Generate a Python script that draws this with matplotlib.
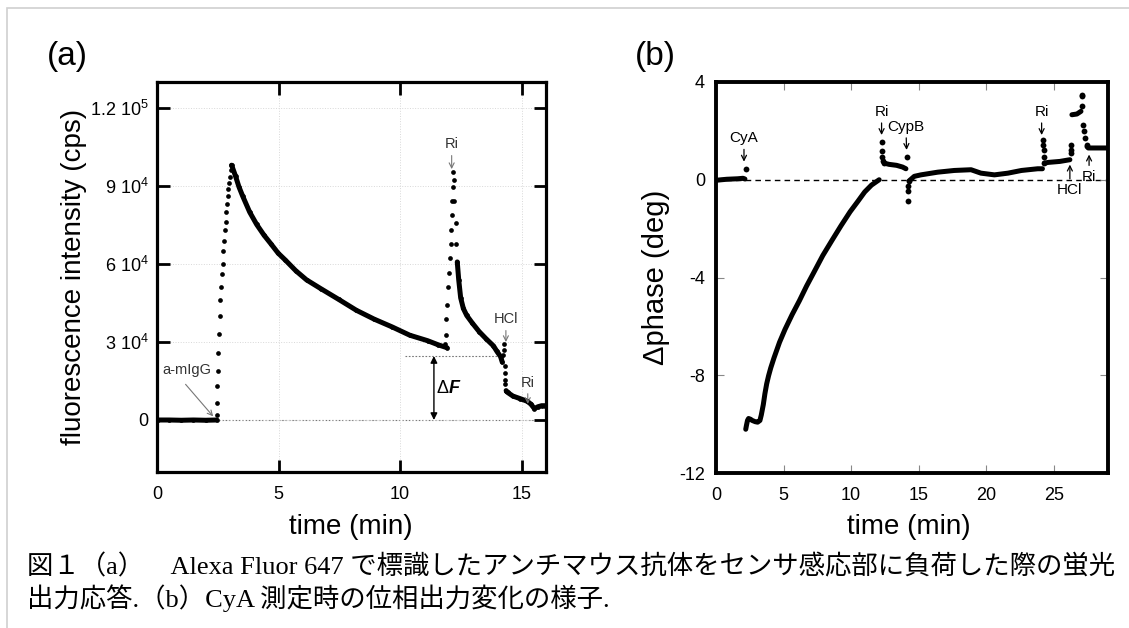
import matplotlib
matplotlib.use("Agg")
import matplotlib.pyplot as plt
from matplotlib.patches import Rectangle

plt.rcParams['font.family'] = ['Liberation Sans', 'DejaVu Sans']
plt.rcParams['mathtext.default'] = 'regular'
plt.rcParams['axes.unicode_minus'] = False

# ---- panel (a): fluorescence intensity (cps) vs time (min) ----
a_base_t = [0.05, 0.5, 1.0, 1.5, 2.0, 2.45]
a_base_f = [0, 0, -100, 0, -100, 0]

a_rise1_t = [2.46, 2.47, 2.48, 2.50, 2.52, 2.55, 2.58, 2.61, 2.64, 2.67, 2.70, 2.73,
             2.76, 2.79, 2.82, 2.85, 2.88, 2.91, 2.94, 2.97, 3.00, 3.03, 3.06]
a_rise1_f = [2000, 6500, 12900, 19000, 25700, 33000, 40000, 46000, 51000, 56000, 60000, 65000,
             69000, 73000, 76000, 80000, 83000, 86000, 89000, 91000, 93500, 96000, 98000]

a_decay1_t = [3.07, 3.23, 3.37, 3.52, 3.81, 4.10, 4.40, 4.69, 4.98, 5.28, 5.71, 6.15,
              6.74, 7.47, 8.20, 8.93, 9.67, 10.40, 11.13, 11.57, 11.93]
a_decay1_f = [98000, 93800, 89700, 86200, 80000, 75200, 71100, 67700, 64200, 61500, 57400, 53900,
              50500, 46400, 42200, 38800, 35800, 32600, 30500, 28900, 27800]

a_peak2_t = [11.86, 11.88, 11.90, 11.93, 11.97, 12.00, 12.04, 12.08, 12.10, 12.12, 12.15,
             12.17, 12.19, 12.21, 12.23, 12.28, 12.31]
a_peak2_f = [29200, 32600, 38800, 44300, 51200, 56700, 62200, 67700, 73200, 78700, 84200,
             89700, 95200, 92400, 84200, 75900, 67700]

a_decay2_t = [12.35, 12.41, 12.49, 12.60, 12.74, 12.96, 13.25, 13.54, 13.84, 13.98, 14.13, 14.20]
a_decay2_f = [60800, 53900, 47000, 42900, 40200, 37400, 34000, 31200, 28500, 26400, 24400, 22300]

a_hcl_t = [14.24, 14.27, 14.29, 14.30, 14.31, 14.32, 14.33, 14.36]
a_hcl_f = [25000, 29200, 27100, 20900, 18100, 15400, 14000, 11300]

a_tail_t = [14.36, 14.42, 14.64, 14.94, 15.23, 15.38, 15.52, 15.67, 15.82, 15.96]
a_tail_f = [11300, 10600, 9200, 8200, 7200, 6100, 4400, 5100, 5500, 5500]

a_yticks = [0, 30000, 60000, 90000, 120000]
a_ylabels = ['0', '3 10$^4$', '6 10$^4$', '9 10$^4$', '1.2 10$^5$']
a_xticks = [0, 5, 10, 15]
delta_f = 24600

# ---- panel (b): phase change (deg) vs time (min) ----
b_base_t = [0.05, 0.4, 0.8, 1.2, 1.6, 2.0, 2.14]
b_base_v = [-0.02, 0.0, 0.02, 0.03, 0.04, 0.06, 0.03]
b_cya_t = [2.22]
b_cya_v = [0.45]

b_rec_t = [2.20, 2.25, 2.33, 2.41, 2.55, 2.68, 2.90, 3.08, 3.25, 3.35, 3.50, 3.62, 3.75, 3.89,
           4.05, 4.29, 4.70, 5.10, 5.63, 6.17, 6.70, 7.24, 7.90, 8.58, 9.25, 9.92, 10.50,
           11.00, 11.50, 12.07]
b_rec_v = [-10.21, -10.06, -9.85, -9.77, -9.80, -9.85, -9.90, -9.92, -9.85, -9.63, -9.20, -8.75,
           -8.35, -8.02, -7.70, -7.29, -6.65, -6.13, -5.52, -4.95, -4.35, -3.79, -3.10, -2.48,
           -1.88, -1.31, -0.88, -0.50, -0.22, 0.0]

b_ri1_t = [12.25, 12.27, 12.30, 12.35, 12.45]
b_ri1_v = [1.54, 1.16, 0.95, 0.75, 0.68]
b_seg2_t = [12.45, 12.80, 13.36, 13.80, 14.05]
b_seg2_v = [0.68, 0.63, 0.59, 0.52, 0.45]

b_cypb_t = [14.12, 14.17, 14.18, 14.20, 14.25]
b_cypb_v = [0.95, -0.89, -0.48, -0.27, -0.04]
b_seg3_t = [14.30, 14.67, 15.16, 16.40, 17.63, 18.87, 19.60, 20.60, 21.60, 22.60, 23.80, 24.15]
b_seg3_v = [-0.04, 0.14, 0.20, 0.31, 0.38, 0.41, 0.27, 0.20, 0.27, 0.38, 0.45, 0.45]

b_ri2_t = [24.20, 24.22, 24.24, 24.25, 24.30]
b_ri2_v = [1.64, 1.43, 1.23, 0.95, 0.68]
b_seg4_t = [24.30, 24.58, 25.44, 26.18]
b_seg4_v = [0.68, 0.71, 0.75, 0.82]

b_hcl_t = [26.26, 26.26, 26.28]
b_hcl_v = [1.43, 1.23, 1.09]
b_seg5_t = [26.33, 26.70, 27.00]
b_seg5_v = [2.66, 2.69, 2.80]
b_spk_t = [27.05, 27.08, 27.10, 27.17, 27.20, 27.29, 27.41]
b_spk_v = [3.00, 3.41, 3.48, 2.25, 1.98, 1.70, 1.43]
b_seg6_t = [27.45, 27.54, 28.00, 28.50, 29.00]
b_seg6_v = [1.35, 1.30, 1.30, 1.30, 1.30]

b_xticks = [0, 5, 10, 15, 20, 25]
b_yticks = [-12, -8, -4, 0, 4]

W, H = 1129, 628
fig = plt.figure(figsize=(W / 100, H / 100), dpi=100)


def axes_px(left, top, right, bottom):
    return fig.add_axes([left / W, 1 - bottom / H, (right - left) / W, (bottom - top) / H])


def dense(ax, t, y):
    ax.plot(t, y, '-', color='k', lw=3.6, solid_capstyle='round', solid_joinstyle='round', zorder=3)


def dots(ax, t, y, ms=3.4):
    ax.plot(t, y, 'o', color='k', ms=ms, mew=0, zorder=3)


# panel (a)
ax1 = axes_px(157, 82, 546, 472)
ax1.set_xlim(0, 16)
ax1.set_ylim(-20000, 130000)
ax1.grid(True, ls=':', color='#d8d8d8', lw=0.7, zorder=0)
ax1.plot([2.4, 16], [0, 0], color='#777', lw=0.8, dashes=(1.5, 1.5), zorder=1)
ax1.plot([10.2, 14.2], [delta_f, delta_f], color='#777', lw=0.8, dashes=(1.5, 1.5), zorder=1)

for t, f in [(a_base_t, a_base_f), (a_decay1_t, a_decay1_f), (a_decay2_t, a_decay2_f),
             (a_tail_t, a_tail_f)]:
    dense(ax1, t, f)
    dots(ax1, t, f)
for t, f in [(a_rise1_t, a_rise1_f), (a_peak2_t, a_peak2_f), (a_hcl_t, a_hcl_f)]:
    dots(ax1, t, f)

ax1.set_xticks(a_xticks)
ax1.set_yticks(a_yticks)
ax1.set_yticklabels(a_ylabels)
ax1.tick_params(direction='in', length=9, width=2, top=True, right=True, labelsize=13)
ax1.tick_params(axis='x', pad=10)
ax1.tick_params(axis='y', pad=6)
for s in ax1.spines.values():
    s.set_linewidth(2.3)

gray_arrow = dict(arrowstyle='->', color='#777', lw=0.8, shrinkA=1, shrinkB=0, mutation_scale=9)
ax1.annotate('a-mIgG', xy=(2.31, 1400), xytext=(1.23, 19100), ha='center', va='center',
             fontsize=10.5, color='#333',
             arrowprops=dict(gray_arrow, relpos=(0.35, 0.0), shrinkA=4))
ax1.annotate('Ri', xy=(12.12, 96500), xytext=(12.12, 106000), ha='center', va='center',
             fontsize=10.5, color='#333', arrowprops=gray_arrow)
ax1.annotate('HCl', xy=(14.35, 30000), xytext=(14.35, 38700), ha='center', va='center',
             fontsize=10.5, color='#333', arrowprops=gray_arrow)
ax1.annotate('Ri', xy=(15.25, 6200), xytext=(15.25, 14400), ha='center', va='center',
             fontsize=10.5, color='#333', arrowprops=gray_arrow)
ax1.annotate('', xy=(11.39, 0), xytext=(11.39, delta_f),
             arrowprops=dict(arrowstyle='<|-|>', color='k', lw=1, shrinkA=0, shrinkB=0,
                             mutation_scale=10))
ax1.text(11.98, 12000, '\u0394', ha='right', va='center', fontsize=13)
ax1.text(11.98, 12000, 'F', ha='left', va='center', fontsize=13, fontweight='bold', style='italic')

# panel (b)
ax2 = axes_px(716, 82, 1108, 473)
ax2.set_xlim(0, 29)
ax2.set_ylim(-12, 4)
ax2.axhline(0, color='k', lw=1, dashes=(4, 3), zorder=1)

for t, v in [(b_base_t, b_base_v), (b_rec_t, b_rec_v), (b_seg2_t, b_seg2_v), (b_seg3_t, b_seg3_v),
             (b_seg4_t, b_seg4_v), (b_seg5_t, b_seg5_v), (b_seg6_t, b_seg6_v)]:
    dense(ax2, t, v)
for t, v in [(b_cya_t, b_cya_v), (b_ri1_t, b_ri1_v), (b_cypb_t, b_cypb_v), (b_ri2_t, b_ri2_v),
             (b_hcl_t, b_hcl_v), (b_spk_t, b_spk_v)]:
    dots(ax2, t, v, ms=4.2)

ax2.set_xticks(b_xticks)
ax2.set_yticks(b_yticks)
ax2.tick_params(direction='in', length=6, width=0.8, color='#888', top=True, right=True,
                labelsize=13)
ax2.tick_params(axis='x', pad=10)
ax2.tick_params(axis='y', pad=8)
for s in ax2.spines.values():
    s.set_linewidth(2.8)

black_arrow = dict(arrowstyle='->', color='k', lw=0.9, shrinkA=1, shrinkB=0, mutation_scale=9)
for label, tx, ty, hx, hy in [('CyA', 2.07, 1.70, 2.07, 0.74),
                              ('Ri', 12.25, 2.78, 12.25, 1.83),
                              ('CypB', 14.05, 2.17, 14.1, 1.22),
                              ('Ri', 24.09, 2.78, 24.09, 1.83)]:
    ax2.annotate(label, xy=(hx, hy), xytext=(tx, ty), ha='center', va='center', fontsize=11,
                 arrowprops=black_arrow)
ax2.annotate('HCl', xy=(26.18, 0.62), xytext=(26.18, -0.42), ha='center', va='center',
             fontsize=11, arrowprops=black_arrow)
ax2.annotate('Ri', xy=(27.6, 1.03), xytext=(27.6, 0.13), ha='center', va='center',
             fontsize=11, arrowprops=black_arrow)

# axis titles and panel letters
fig.text(351 / W, 1 - 527 / H, 'time (min)', ha='center', va='center', fontsize=20)
fig.text(909 / W, 1 - 527 / H, 'time (min)', ha='center', va='center', fontsize=20)
fig.text(74 / W, 1 - 277 / H, 'fluorescence intensity (cps)', rotation=90,
         ha='center', va='center', fontsize=20)
fig.text(656 / W, 1 - 277 / H, '\u0394phase (deg)', rotation=90,
         ha='center', va='center', fontsize=21)
fig.text(67 / W, 1 - 56 / H, '(a)', ha='center', va='center', fontsize=24)
fig.text(655 / W, 1 - 56 / H, '(b)', ha='center', va='center', fontsize=24)

# caption
cap_font = ['Liberation Serif', 'Noto Sans CJK JP']
fig.text(27 / W, 1 - 567 / H,
         '図１（a）\u3000Alexa Fluor 647 で標識したアンチマウス抗体をセンサ感応部に負荷した際の蛍光',
         ha='left', va='center', fontsize=19, family=cap_font)
fig.text(27 / W, 1 - 598 / H, '出力応答.（b）CyA 測定時の位相出力変化の様子.',
         ha='left', va='center', fontsize=19, family=cap_font)

# thin frame round the whole picture
fig.add_artist(Rectangle((6.5 / W, -0.05), 1.0, 1 - 8 / H + 0.05, transform=fig.transFigure,
                         fill=False, ec='#d0d0d0', lw=1.2))

fig.savefig('out.png', dpi=100)
